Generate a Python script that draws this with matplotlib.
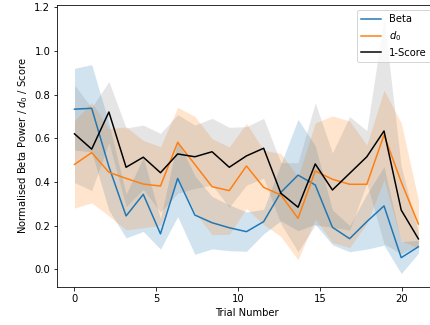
import numpy as np
import matplotlib
matplotlib.use("Agg")
import matplotlib.pyplot as plt

trial = [0, 1.05, 2.1, 3.15, 4.2, 5.25, 6.3, 7.35, 8.4, 9.45, 10.5,
         11.55, 12.6, 13.65, 14.7, 15.75, 16.8, 17.85, 18.9, 19.95, 21.0]

beta_mean = [0.733, 0.737, 0.47, 0.244, 0.343, 0.162, 0.416, 0.248, 0.213, 0.19, 0.172,
             0.218, 0.352, 0.431, 0.386, 0.192, 0.14, 0.218, 0.29, 0.053, 0.103]
beta_sd = [0.187, 0.2, 0.2, 0.10, 0.17, 0.07, 0.175, 0.18, 0.12, 0.105, 0.09,
           0.056, 0.13, 0.255, 0.18, 0.08, 0.06, 0.126, 0.18, 0.073, 0.03]

d0_mean = [0.48, 0.534, 0.444, 0.416, 0.39, 0.381, 0.581, 0.48, 0.378, 0.36, 0.473,
           0.375, 0.34, 0.233, 0.45, 0.412, 0.389, 0.389, 0.615, 0.40, 0.207]
d0_sd = [0.2, 0.23, 0.2, 0.236, 0.2, 0.18, 0.16, 0.22, 0.22, 0.2, 0.195,
         0.17, 0.19, 0.19, 0.22, 0.29, 0.29, 0.18, 0.205, 0.27, 0.11]

score_mean = [0.62, 0.55, 0.72, 0.467, 0.513, 0.442, 0.528, 0.515, 0.538, 0.467, 0.519,
              0.554, 0.348, 0.284, 0.482, 0.363, 0.439, 0.515, 0.633, 0.271, 0.139]
score_sd = [0.223, 0.19, 0.14, 0.18, 0.147, 0.18, 0.18, 0.145, 0.153, 0.183, 0.134,
            0.137, 0.14, 0.204, 0.28, 0.17, 0.26, 0.12, 0.517, 0.2, 0.03]

labels = ["Beta", "$d_0$", "1-Score"]
x_ticks = [0, 5, 10, 15, 20]
y_ticks = [0.0, 0.2, 0.4, 0.6, 0.8, 1.0, 1.2]

W, H = 430, 325
fig = plt.figure(figsize=(W / 72, H / 72), dpi=72)
ax = fig.add_axes([57.3 / W, 38.3 / H, (435.6 - 57.3) / W, (286.7 - 5) / H])

x = np.array(trial)
series = [(beta_mean, beta_sd, "#1f77b4", "#1f77b4"),
          (d0_mean, d0_sd, "#ff7f0e", "#ff7f0e"),
          (score_mean, score_sd, "k", "gray")]
for (m, s, lc, fc), lab in zip(series, labels):
    m = np.array(m)
    s = np.array(s)
    ax.plot(x, m, color=lc, lw=1.5, label=lab)
    ax.fill_between(x, m - s, m + s, color=fc, alpha=0.2, lw=0)

ax.set_xlim(-1.05, 22.05)
ax.set_ylim(-0.08, 1.21)
ax.set_xticks(x_ticks)
ax.set_yticks(y_ticks)
ax.set_xlabel("Trial Number")
ax.set_ylabel("Normalised Beta Power / $d_0$ / Score")
ax.legend(loc="upper right")

fig.savefig("out.png", dpi=72)
